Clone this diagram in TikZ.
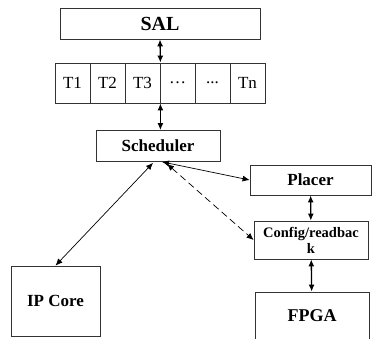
\documentclass[tikz,border=0pt]{standalone}
\usepackage{fontspec}
\setmainfont{Liberation Serif}
\usetikzlibrary{arrows.meta,calc}

\begin{document}
\begin{tikzpicture}[x = 1pt, y = -1pt,
  box/.style = {draw = black!80, line width = 0.8pt, inner sep = 0pt, align = center, font = \bfseries\fontsize{17}{19}\selectfont},
  cell/.style = {draw = black!80, line width = 0.8pt, minimum width = 35pt, minimum height = 40pt, inner sep = 0pt, font = \fontsize{17}{19}\selectfont},
  link/.style = {{Latex[length = 7pt, width = 6pt]}-{Latex[length = 7pt, width = 6pt]}, line width = 0.7pt},
  bus/.style = {link, line width = 1.3pt}]
%\draw[very thin, color = gray](0, 0) grid[step = 20] (373, 339);
\useasboundingbox (0, 0) rectangle (373, 339);
\node [box, minimum width = 200pt, minimum height = 31pt, font = \bfseries\fontsize{20}{22}\selectfont] (sal) at (160, 23.5) {SAL};
\foreach \lbl [count = \i] in {T1, T2, T3, {\textellipsis}, {{.}{.}{.}}, Tn}
  \node [cell] (t\i) at (37.5 + 35*\i, 83) {\lbl};
\node [box, minimum width = 124pt, minimum height = 31pt] (sched) at (158, 146) {Scheduler};
\node [box, minimum width = 121pt, minimum height = 30pt] (placer) at (310.5, 180) {Placer};
\node [box, minimum width = 114pt, minimum height = 38pt, font = \bfseries\fontsize{14.5}{16}\selectfont] (config) at (311, 240) {Config/readbac\\k};
\node [box, minimum width = 114pt, minimum height = 48pt, font = \bfseries\fontsize{18}{20}\selectfont] (fpga) at (312, 316) {FPGA};
\node [box, minimum width = 89pt, minimum height = 70pt] (ipcore) at (55.5, 301) {IP Core};
\draw [bus] (sal.south) -- (t3.north east);
\draw [bus] (t3.south east) -- (t3.south east |- sched.north);
\draw [link] ($(sched.south) + (-5, 1)$) -- (ipcore.north);
\draw [link] ($(sched.south) + (4, 0)$) -- (placer.west);
\draw [link, dash pattern = on 7pt off 4pt] ($(sched.south) + (9, 2)$) -- (config.west);
\draw [bus] (placer) -- (config);
\draw [bus] (config) -- (fpga);
\end{tikzpicture}
\end{document}
